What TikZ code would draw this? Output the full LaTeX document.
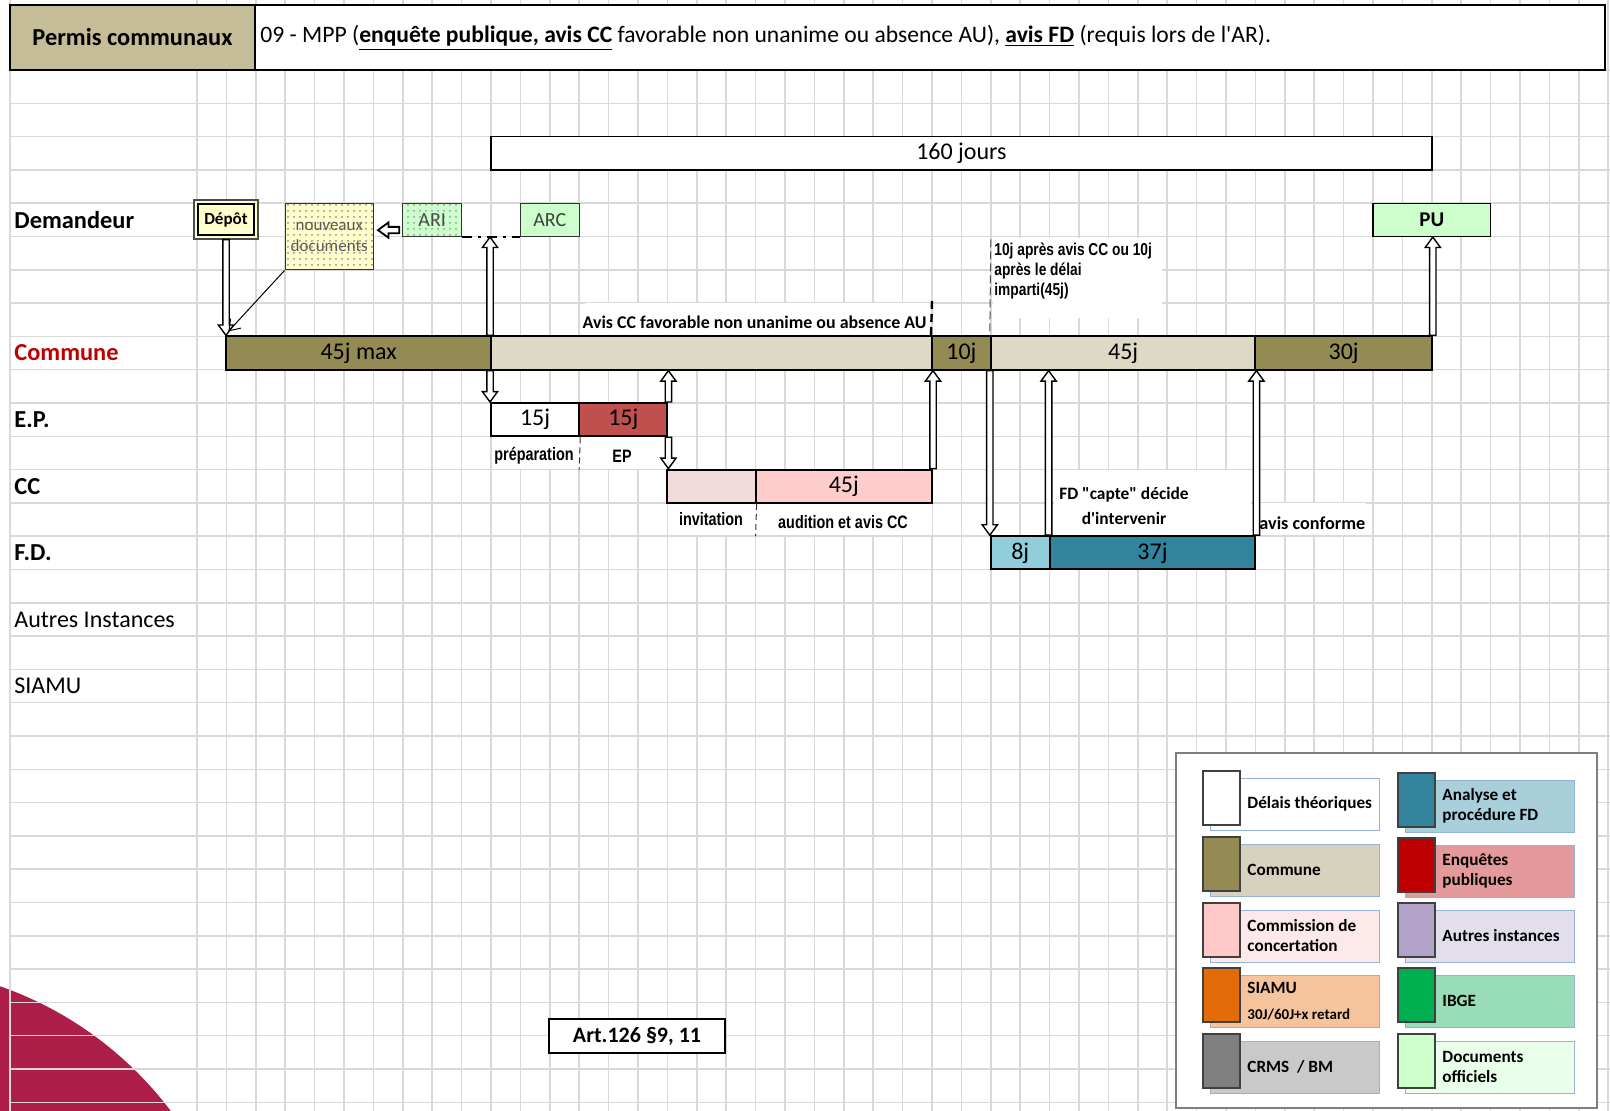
\documentclass[tikz,border=0pt]{standalone}
\usepackage{fontspec}
\setmainfont{Carlito}[Ligatures=TeXOff]
\newfontfamily\narrowfont[FakeStretch=0.8,Ligatures=TeXOff]{Liberation Sans}
\usetikzlibrary{arrows.meta,calc,fit,patterns}

% palette
\definecolor{gridGray}{HTML}{D9D9D9}
\definecolor{hdrTan}{HTML}{C4BD97}
\definecolor{comOlive}{HTML}{948A54}
\definecolor{comTan}{HTML}{DDD9C4}
\definecolor{epRed}{HTML}{C0504D}
\definecolor{ccLight}{HTML}{F2DCDB}
\definecolor{ccPink}{HTML}{FFCCCC}
\definecolor{fdLight}{HTML}{92CDDC}
\definecolor{fdDark}{HTML}{31849B}
\definecolor{docYellow}{HTML}{FFFFCC}
\definecolor{docGreen}{HTML}{CCFFCC}
\definecolor{communeRed}{HTML}{C00000}
\definecolor{logoRed}{HTML}{AD1F48}
\definecolor{legBlue}{HTML}{95B3D7}
\definecolor{legFrame}{HTML}{7F7F7F}
\definecolor{legComRect}{HTML}{D7D2BE}
\definecolor{legCcSq}{HTML}{FFC9C9}
\definecolor{legCcRect}{HTML}{FDE9E9}
\definecolor{legSiSq}{HTML}{E36C09}
\definecolor{legSiRect}{HTML}{F5C49C}
\definecolor{legCrSq}{HTML}{808080}
\definecolor{legCrRect}{HTML}{C9C9C9}
\definecolor{legFdRect}{HTML}{A9CFDA}
\definecolor{legEpSq}{HTML}{C00000}
\definecolor{legEpRect}{HTML}{E49A9A}
\definecolor{legAuSq}{HTML}{B2A2C7}
\definecolor{legAuRect}{HTML}{E3DEEB}
\definecolor{legIbSq}{HTML}{00B050}
\definecolor{legIbRect}{HTML}{9ADDB9}
\definecolor{legDoRect}{HTML}{EAFFEA}

% spreadsheet grid: column and row positions
\newcommand\colx[1]{(197+29.4*(#1))}
\newcommand\rowy[1]{(70+33.3*(#1))}

% hollow block arrows
\newcommand\arrShaft{1.6pt}
\newcommand\arrHead{3.8pt}
\newcommand\arrLen{5.2pt}
\newcommand\vblockarrow[3][]{%
  \draw[blockarrow,#1] let \p1=(#2), \p2=(#3), \n1={ifthenelse(\y2>\y1,1,-1)} in
    ({\x1-\arrShaft},\y1) -- ({\x1-\arrShaft},{\y2-(\n1)*\arrLen}) --
    ({\x1-\arrHead},{\y2-(\n1)*\arrLen}) -- (\x1,\y2) --
    ({\x1+\arrHead},{\y2-(\n1)*\arrLen}) -- ({\x1+\arrShaft},{\y2-(\n1)*\arrLen}) --
    ({\x1+\arrShaft},\y1) -- cycle;}
\newcommand\hblockarrow[3][]{%
  \draw[blockarrow,#1] let \p1=(#2), \p2=(#3), \n1={ifthenelse(\x2>\x1,1,-1)} in
    (\x1,{\y1-\arrShaft}) -- ({\x2-(\n1)*\arrLen},{\y1-\arrShaft}) --
    ({\x2-(\n1)*\arrLen},{\y1-\arrHead}) -- (\x2,\y1) --
    ({\x2-(\n1)*\arrLen},{\y1+\arrHead}) -- ({\x2-(\n1)*\arrLen},{\y1+\arrShaft}) --
    (\x1,{\y1+\arrShaft}) -- cycle;}

% legend entry: name, left x, top y, square colour, band colour, text
\newcommand\legitem[6]{%
  \node[legrect, fill=#5, fit={({#2+7},{#3+7})({#2+176},{#3+59})}] (#1r) {};
  \node[legsq, fill=#4, fit={(#2,#3)({#2+37},{#3+54})}] (#1s) {};
  \node[legtext] (#1t) at ({#2+44},{#3+33}) {#6};}

\begin{document}
\begin{tikzpicture}[x=0.5pt,y=-0.5pt,
  gridline/.style={draw=gridGray, line width=0.75pt},
  bar/.style={draw=black, line width=1pt, inner sep=0pt},
  bartext/.style={label={[inner sep=0pt, font=\fontsize{12}{14}\selectfont]center:{#1}}},
  docbox/.style={draw=black!80, line width=0.6pt, inner sep=0pt},
  rowlab/.style={anchor=west, inner sep=0pt, font=\bfseries\fontsize{12.2}{14}\selectfont},
  rowlabreg/.style={anchor=west, inner sep=0pt, font=\fontsize{12}{14}\selectfont},
  smalllab/.style={inner sep=0pt, font=\narrowfont\bfseries\fontsize{9}{10}\selectfont},
  boldlab/.style={inner sep=0pt, font=\bfseries\fontsize{8.7}{12.5}\selectfont},
  blockarrow/.style={draw=black, fill=white, line width=0.7pt, line join=miter},
  legrect/.style={draw=legBlue, line width=0.5pt, inner sep=0pt},
  legsq/.style={draw=black!75, line width=0.8pt, inner sep=0pt},
  legtext/.style={anchor=west, inner sep=0pt, align=left, font=\bfseries\fontsize{8.6}{10}\selectfont}]

\useasboundingbox (0,0) rectangle (1610,1111);
\fill[white] (0,0) rectangle (1610,1111);

% corner logo
\begin{scope}
  \clip (0,0) rectangle (1610,1111);
  \fill[logoRed] (-120,1330) circle[radius=364];
\end{scope}

% grid
\foreach \k in {0,...,48} \draw[gridline] ({\colx{\k}},0) -- ({\colx{\k}},1111);
\draw[gridline] (10,0) -- (10,1111);
\foreach \k in {0,...,31} \draw[gridline] (10,{\rowy{\k}}) -- (1610,{\rowy{\k}});

% title bar
\node[draw=black, line width=1pt, fill=white, inner sep=0pt, fit={(10,5)(1605,70)}] (header) {};
\node[draw=black, line width=1pt, fill=hdrTan, inner sep=0pt, fit={(10,5)(255,70)},
      label={[inner sep=0pt, font=\bfseries\fontsize{12.2}{14}\selectfont]center:Permis communaux}] (permis) {};
\node[anchor=west, inner sep=0pt, font=\fontsize{11.8}{14}\selectfont] (titre) at (260,38)
  {09 - MPP (\underline{\textbf{enquête publique, avis CC}} favorable non unanime ou absence AU), \underline{\textbf{avis FD}} (requis lors de l'AR).};

% row labels
\node[rowlab] (lDem) at (14,{\rowy{4.5}}) {Demandeur};
\node[rowlab, text=communeRed] (lCom) at (14,{\rowy{8.5}}) {Commune};
\node[rowlab] (lEP) at (14,{\rowy{10.5}}) {E.P.};
\node[rowlab] (lCC) at (14,{\rowy{12.5}}) {CC};
\node[rowlab] (lFD) at (14,{\rowy{14.5}}) {F.D.};
\node[rowlabreg] (lAut) at (14,{\rowy{16.5}}) {Autres Instances};
\node[rowlabreg] (lSia) at (14,{\rowy{18.5}}) {SIAMU};

% total duration
\node[draw=black, line width=0.8pt, fill=white, inner sep=0pt,
      fit={({\colx{10}},{\rowy{2}})({\colx{42}},{\rowy{3}})}, bartext={160 jours}] (total) {};

% applicant documents
\node[draw=black!70, line width=0.6pt, fill=docYellow, inner sep=0pt, fit={(194,200)(258,239)}] (depot) {};
\node[draw=black, line width=1.1pt, inner sep=0pt, fit={(198,204)(254,235)},
      label={[inner sep=0pt, font=\bfseries\fontsize{8.5}{10}\selectfont]center:Dépôt}] (depotin) {};
\fill[docYellow] ({\colx{3}},{\rowy{4}}) rectangle ({\colx{6}},{\rowy{6}});
\fill[pattern=dots, pattern color=black!45] ({\colx{3}},{\rowy{4}}) rectangle ({\colx{6}},{\rowy{6}});
\node[docbox, fit={({\colx{3}},{\rowy{4}})({\colx{6}},{\rowy{6}})},
      label={[inner sep=0pt, align=center, text=black!65, font=\fontsize{8.5}{10.5}\selectfont]center:{nouveaux\\documents}}] (nouv) {};
\fill[docGreen] ({\colx{7}},{\rowy{4}}) rectangle ({\colx{9}},{\rowy{5}});
\fill[pattern=dots, pattern color=black!40] ({\colx{7}},{\rowy{4}}) rectangle ({\colx{9}},{\rowy{5}});
\node[docbox, fit={({\colx{7}},{\rowy{4}})({\colx{9}},{\rowy{5}})},
      label={[inner sep=0pt, text=black!70, font=\fontsize{10}{12}\selectfont]center:ARI}] (ari) {};
\node[docbox, fill=docGreen, fit={({\colx{11}},{\rowy{4}})({\colx{13}},{\rowy{5}})},
      label={[inner sep=0pt, text=black!75, font=\fontsize{10}{12}\selectfont]center:ARC}] (arc) {};
\node[docbox, draw=black, fill=docGreen, fit={({\colx{40}},{\rowy{4}})({\colx{44}},{\rowy{5}})},
      label={[inner sep=0pt, font=\bfseries\fontsize{10.5}{12}\selectfont]center:PU}] (pu) {};

% municipality timeline
\node[bar, fill=comOlive, fit={({\colx{1}},{\rowy{8}})({\colx{10}},{\rowy{9}})}, bartext={45j max}] (c1) {};
\node[bar, fill=comTan, fit={({\colx{10}},{\rowy{8}})({\colx{25}},{\rowy{9}})}] (c2) {};
\node[bar, fill=comOlive, fit={({\colx{25}},{\rowy{8}})({\colx{27}},{\rowy{9}})}, bartext=10j] (c3) {};
\node[bar, fill=comTan, fit={({\colx{27}},{\rowy{8}})({\colx{36}},{\rowy{9}})}, bartext=45j] (c4) {};
\node[bar, fill=comOlive, fit={({\colx{36}},{\rowy{8}})({\colx{42}},{\rowy{9}})}, bartext=30j] (c5) {};

% public inquiry
\node[bar, fill=white, fit={({\colx{10}},{\rowy{10}})({\colx{13}},{\rowy{11}})}, bartext=15j] (ep1) {};
\node[bar, fill=epRed, fit={({\colx{13}},{\rowy{10}})({\colx{16}},{\rowy{11}})}, bartext=15j] (ep2) {};

% consultation committee
\node[bar, fill=ccLight, fit={({\colx{16}},{\rowy{12}})({\colx{19}},{\rowy{13}})}] (cc1) {};
\node[bar, fill=ccPink, fit={({\colx{19}},{\rowy{12}})({\colx{25}},{\rowy{13}})}, bartext=45j] (cc2) {};

% regional official
\node[bar, fill=fdLight, fit={({\colx{27}},{\rowy{14}})({\colx{29}},{\rowy{15}})}, bartext=8j] (fd1) {};
\node[bar, fill=fdDark, fit={({\colx{29}},{\rowy{14}})({\colx{36}},{\rowy{15}})}, bartext=37j] (fd2) {};

% label backgrounds
\fill[white] (585,{\rowy{7}}) rectangle ({\colx{25}-1},{\rowy{8}-1});
\fill[white] ({\colx{27}+2},{\rowy{5}+2}) rectangle (1162,318);
\fill[white] ({\colx{10}+1},{\rowy{11}+1}) rectangle ({\colx{16}},{\rowy{12}-1});
\fill[white] ({\colx{16}+1},{\rowy{13}+1}) rectangle ({\colx{25}},{\rowy{14}-1});
\fill[white] ({\colx{29}+4},{\rowy{12}}) rectangle ({\colx{36}-4},{\rowy{14}-1});
\fill[white] ({\colx{36}+4},{\rowy{13}}) rectangle (1366,{\rowy{14}-1});

% milestone marks
\coordinate (avisTop) at ({\colx{25}},301);
\coordinate (delaiTop) at ({\colx{27}},{\rowy{5}+3});
\draw[line width=1.2pt, dash pattern=on 4pt off 2.5pt] (avisTop) -- (c3.north west);
\draw[black!70, line width=0.5pt, dash pattern=on 4pt off 2pt] (delaiTop) -- (c4.north west);
\coordinate (prepEnd) at ({\colx{13}},{\rowy{12}});
\coordinate (invEnd) at ({\colx{19}},{\rowy{14}});
\draw[black!80, line width=0.5pt, dash pattern=on 3pt off 2pt] (ep1.south east) -- (prepEnd);
\draw[black!80, line width=0.5pt, dash pattern=on 3pt off 2pt] (cc1.south east) -- (invEnd);
\draw[line width=0.8pt, dash pattern=on 5pt off 3pt on 1.5pt off 3pt] (ari.south east) -- (arc.south west);

% annotations
\node[inner sep=0pt, anchor=east, font=\bfseries\fontsize{8.95}{10}\selectfont] (avisLab)
  at ({\colx{25}-5},322) {Avis CC favorable non unanime ou absence AU};
\node[smalllab, anchor=north west, align=left, font=\narrowfont\bfseries\fontsize{8.6}{10}\selectfont] (delaiLab)
  at (994,242) {10j après avis CC ou 10j\\après le délai\\imparti(45j)};
\node[smalllab] (prepLab) at (534,456) {préparation};
\node[smalllab] (epLab) at (622,456) {EP};
\node[smalllab] (invLab) at (711,519) {invitation};
\node[smalllab] (audLab) at (843,522) {audition et avis CC};
\node[boldlab, align=center] (capteLab) at (1124,506) {FD "capte" décide\\d'intervenir};
\node[boldlab, anchor=west, font=\bfseries\fontsize{9.1}{11}\selectfont] (confLab) at (1259,523) {avis conforme};

% flow arrows
\coordinate (arcLine) at (c2.north west |- ari.south);
\vblockarrow{depot.south}{c1.north west}
\draw[line width=0.5pt, -{Straight Barb[length=5pt,width=7pt]}] (nouv.south west) -- ($(c1.north west)+(3,-4)$);
\coordinate (ariArrowStart) at ($(ari.south west)+(-3,-7)$);
\coordinate (ariArrowEnd) at (nouv.east |- ariArrowStart);
\hblockarrow[line width=0.9pt]{ariArrowStart}{$(ariArrowEnd)+(4,0)$}
\vblockarrow{c2.north west}{arcLine}
\vblockarrow{c2.south west}{ep1.north west}
\vblockarrow{ep2.north east}{ep2.north east |- c2.south}
\vblockarrow{ep2.south east}{cc1.north west}
\vblockarrow{cc2.north east}{cc2.north east |- c2.south}
\vblockarrow{c4.south west}{fd1.north west}
\vblockarrow{fd2.north west}{fd2.north west |- c4.south}
\vblockarrow{fd2.north east}{fd2.north east |- c4.south}
\vblockarrow{c5.north east}{c5.north east |- pu.south}

% legal reference
\node[draw=black, line width=1pt, fill=white, inner sep=0pt, fit={(549,1019)(725,1053)},
      label={[inner sep=0pt, font=\bfseries\fontsize{11}{13}\selectfont]center:{Art.126 §9, 11}}] (art) {};

% legend
\node[draw=legFrame, line width=1.2pt, fill=white, inner sep=0pt, fit={(1176,753)(1597,1108)}] (legend) {};
\legitem{lgA}{1203}{771}{white}{white}{Délais théoriques}
\legitem{lgB}{1203}{837}{comOlive}{legComRect}{Commune}
\legitem{lgC}{1203}{903}{legCcSq}{legCcRect}{Commission de\\concertation}
\legitem{lgD}{1203}{968}{legSiSq}{legSiRect}{SIAMU\\[3pt]{\fontsize{7.5}{9}\selectfont 30J/60J+x retard}}
\legitem{lgE}{1203}{1034}{legCrSq}{legCrRect}{CRMS\ \ / BM}
\legitem{lgF}{1398}{773}{fdDark}{legFdRect}{Analyse et\\procédure FD}
\legitem{lgG}{1398}{838}{legEpSq}{legEpRect}{Enquêtes\\publiques}
\legitem{lgH}{1398}{903}{legAuSq}{legAuRect}{Autres instances}
\legitem{lgI}{1398}{968}{legIbSq}{legIbRect}{IBGE}
\legitem{lgJ}{1398}{1034}{docGreen}{legDoRect}{Documents\\officiels}

\end{tikzpicture}
\end{document}
